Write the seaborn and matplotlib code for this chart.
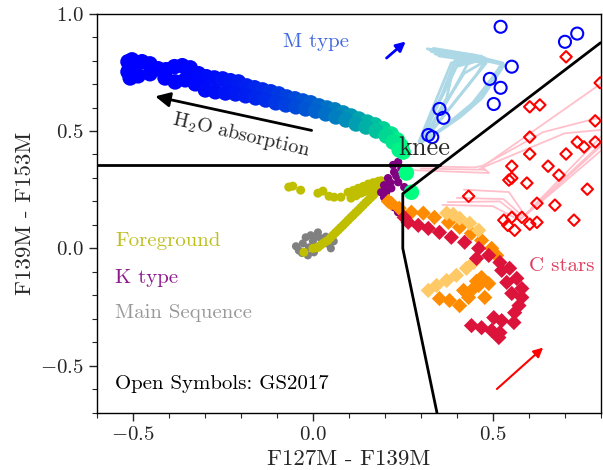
import numpy as np
import matplotlib
matplotlib.use("Agg")
import matplotlib.pyplot as plt
import seaborn as sns
from matplotlib.colors import PowerNorm

# M type model track (upper + lower edge of the band)
mtype_x = [-0.514, -0.514, -0.503, -0.497, -0.475, -0.453, -0.430, -0.408, -0.385, -0.363,
           -0.341, -0.318, -0.296, -0.274, -0.251, -0.229, -0.207, -0.184, -0.162, -0.140,
           -0.117, -0.095, -0.073, -0.050, -0.028, -0.006, 0.017, 0.039, 0.061, 0.084,
           0.106, 0.128, 0.151, 0.173, 0.196, 0.218, 0.235, 0.246, 0.251,
           -0.508, -0.486, -0.453, -0.411, -0.383, -0.355, -0.327, -0.299, -0.271, -0.243,
           -0.215, -0.187, -0.159, -0.131, -0.103, -0.075, -0.047, -0.020, 0.008, 0.036,
           0.064, 0.092, 0.120, 0.148, 0.176, 0.204, 0.223, 0.240,
           0.260, 0.274]
mtype_y = [0.795, 0.752, 0.803, 0.778, 0.795, 0.786, 0.765, 0.761, 0.774, 0.778,
           0.769, 0.744, 0.731, 0.726, 0.722, 0.714, 0.709, 0.692, 0.684, 0.675,
           0.667, 0.658, 0.645, 0.637, 0.628, 0.620, 0.607, 0.598, 0.590, 0.577,
           0.564, 0.551, 0.538, 0.526, 0.509, 0.487, 0.462, 0.436, 0.410,
           0.726, 0.735, 0.744, 0.726, 0.709, 0.718, 0.701, 0.675, 0.667, 0.662,
           0.658, 0.650, 0.641, 0.632, 0.620, 0.611, 0.603, 0.594, 0.585, 0.573,
           0.560, 0.547, 0.530, 0.517, 0.500, 0.479, 0.453, 0.419,
           0.321, 0.239]

# K type
ktype_x = [0.237, 0.223, 0.226, 0.246, 0.232, 0.209, 0.237, 0.198, 0.218, 0.254,
           0.190, 0.198, 0.209, 0.226, 0.237, 0.251, 0.260, 0.215, 0.204]
ktype_y = [0.368, 0.355, 0.325, 0.342, 0.308, 0.299, 0.282, 0.269, 0.256, 0.261,
           0.239, 0.218, 0.197, 0.175, 0.154, 0.132, 0.115, 0.280, 0.240]

# Foreground
fg_x = [-0.067, -0.056, -0.034, 0.014, 0.028, 0.045, 0.059, 0.078,
        0.098, 0.112, 0.126, 0.140, 0.154, 0.168, 0.182, 0.190,
        0.106, 0.120, 0.134, 0.145, 0.156, 0.170, 0.182,
        0.180, 0.172, 0.168, 0.161, 0.154, 0.147, 0.140, 0.133, 0.126, 0.119, 0.112,
        0.105, 0.098, 0.091, 0.084, 0.077, 0.070, 0.063, 0.056, 0.049, 0.042,
        0.035, 0.028, 0.021, 0.014, 0.007, 0.000, -0.025]
fg_y = [0.261, 0.265, 0.248, 0.235, 0.244, 0.222, 0.218, 0.218,
        0.239, 0.247, 0.256, 0.264, 0.274, 0.280, 0.286, 0.288,
        0.214, 0.224, 0.235, 0.242, 0.248, 0.255, 0.261,
        0.262, 0.235, 0.226, 0.216, 0.205, 0.195, 0.184, 0.173, 0.162, 0.152, 0.141,
        0.131, 0.120, 0.109, 0.098, 0.088, 0.077, 0.067, 0.056, 0.045, 0.034,
        0.028, 0.021, 0.013, 0.004, 0.002, 0.000, -0.017]

# Main sequence
ms_x = [-0.039, -0.028, -0.020, -0.006, 0.000, 0.014, 0.022, 0.031, 0.045, 0.050,
        0.003, -0.011, -0.014, -0.047, 0.036, -0.030, 0.058, 0.010]
ms_y = [-0.009, 0.021, 0.047, 0.056, 0.030, 0.068, 0.043, 0.026, 0.017, 0.000,
        -0.017, 0.004, -0.030, 0.009, 0.050, -0.020, 0.030, 0.050]

# C star models
cdark_x = [0.210, 0.218, 0.240, 0.274, 0.307, 0.338, 0.377, 0.408, 0.441, 0.469, 0.497, 0.511,
           0.469, 0.489, 0.461, 0.441, 0.419, 0.352, 0.380, 0.408, 0.433, 0.478, 0.455]
cdark_y = [0.200, 0.192, 0.171, 0.154, 0.150, 0.132, 0.111, 0.090, 0.064, 0.034, 0.000, -0.030,
           -0.124, -0.150, -0.158, -0.179, -0.179, -0.214, -0.222, -0.244, -0.209, -0.209, -0.140]
clight_x = [0.372, 0.408, 0.436, 0.461, 0.321, 0.344, 0.372, 0.399, 0.427, 0.447, 0.390]
clight_y = [0.150, 0.128, 0.107, 0.077, -0.179, -0.158, -0.137, -0.115, -0.085, -0.060, 0.145]
crim_x = [0.254, 0.265, 0.293, 0.321, 0.352, 0.385, 0.422, 0.461, 0.489, 0.520, 0.547, 0.567,
          0.581, 0.581, 0.573, 0.561, 0.559, 0.525, 0.503, 0.469, 0.441, 0.497, 0.520, 0.455,
          0.553, 0.525, 0.539, 0.517]
crim_y = [0.132, 0.111, 0.098, 0.085, 0.068, 0.047, 0.026, 0.000, -0.030, -0.060, -0.085, -0.128,
          -0.171, -0.209, -0.244, -0.274, -0.316, -0.308, -0.295, -0.338, -0.329, -0.350, -0.359, -0.043,
          -0.192, -0.094, -0.145, -0.380]

# GS2017 (open symbols)
gs_m_x = [0.522, 0.701, 0.735, 0.553, 0.492, 0.522, 0.503, 0.352, 0.363, 0.321, 0.332]
gs_m_y = [0.944, 0.880, 0.915, 0.774, 0.722, 0.684, 0.615, 0.594, 0.556, 0.483, 0.474]
gs_c_x = [0.704, 0.603, 0.631, 0.799, 0.785, 0.603, 0.603, 0.735, 0.754, 0.785, 0.704, 0.553,
          0.654, 0.684, 0.545, 0.553, 0.595, 0.763, 0.433, 0.623, 0.673, 0.581, 0.531, 0.553,
          0.542, 0.561, 0.603, 0.623, 0.726]
gs_c_y = [0.816, 0.603, 0.611, 0.705, 0.543, 0.474, 0.402, 0.453, 0.432, 0.453, 0.402, 0.350,
          0.350, 0.312, 0.291, 0.299, 0.278, 0.252, 0.222, 0.192, 0.184, 0.132, 0.120, 0.132,
          0.098, 0.077, 0.103, 0.111, 0.120]

# GS2017 model tracks
m_tracks = [
    [(0.295, 0.455), (0.385, 0.790), (0.470, 0.818), (0.318, 0.850)],
    [(0.300, 0.460), (0.400, 0.775), (0.472, 0.805), (0.330, 0.838)],
    [(0.305, 0.458), (0.420, 0.745), (0.476, 0.795), (0.340, 0.828)],
    [(0.310, 0.462), (0.445, 0.720), (0.482, 0.790), (0.350, 0.820)],
    [(0.302, 0.452), (0.372, 0.640), (0.392, 0.780), (0.460, 0.812), (0.325, 0.845)],
    [(0.298, 0.450), (0.360, 0.660), (0.395, 0.800), (0.455, 0.822), (0.335, 0.852)],
    [(0.307, 0.455), (0.400, 0.700), (0.430, 0.785), (0.478, 0.812), (0.345, 0.835)],
    [(0.312, 0.465), (0.455, 0.740), (0.480, 0.800), (0.360, 0.825)],
    [(0.318, 0.465), (0.430, 0.590), (0.500, 0.720), (0.532, 0.782), (0.478, 0.800)],
    [(0.322, 0.468), (0.440, 0.600), (0.510, 0.735), (0.528, 0.790), (0.470, 0.812)],
    [(0.315, 0.460), (0.420, 0.575), (0.490, 0.700), (0.520, 0.775)],
    [(0.320, 0.462), (0.445, 0.620), (0.515, 0.760), (0.535, 0.780)],
    [(0.325, 0.470), (0.410, 0.560), (0.470, 0.640), (0.525, 0.765)],
]
c_tracks = [
    [(0.280, 0.333), (0.490, 0.321), (0.470, 0.346), (0.804, 0.705)],
    [(0.285, 0.350), (0.450, 0.345), (0.472, 0.352), (0.640, 0.495), (0.804, 0.560)],
    [(0.300, 0.340), (0.480, 0.335), (0.465, 0.340), (0.700, 0.490), (0.804, 0.505)],
    [(0.375, 0.197), (0.520, 0.200), (0.580, 0.128), (0.804, 0.450)],
    [(0.360, 0.185), (0.500, 0.180), (0.575, 0.120), (0.804, 0.420)],
    [(0.400, 0.215), (0.530, 0.210), (0.585, 0.135), (0.804, 0.480)],
    [(0.420, 0.250), (0.545, 0.240), (0.590, 0.140), (0.804, 0.440)],
]

# dividing lines
line_h = [(-0.6, 0.355), (0.354, 0.355)]
line_bound = [(0.8, 0.876), (0.25, 0.233), (0.25, 0.0), (0.345, -0.7)]

sns.set_style("ticks")
plt.rcParams["font.family"] = ["serif"]
plt.rcParams["font.serif"] = ["cmr10", "DejaVu Serif"]
plt.rcParams["mathtext.fontset"] = "cm"
plt.rcParams["axes.formatter.use_mathtext"] = True
plt.rcParams["axes.unicode_minus"] = True

fig = plt.figure(figsize=(6.03, 4.70), dpi=100)
ax = fig.add_axes([0.161, 0.122, 0.835, 0.849])

for tr in m_tracks:
    xs, ys = zip(*tr)
    ax.plot(xs, ys, color="lightblue", lw=2.0, zorder=1)
for tr in c_tracks:
    xs, ys = zip(*tr)
    ax.plot(xs, ys, color="pink", lw=1.3, zorder=1)

sns.scatterplot(x=ms_x, y=ms_y, color="gray", s=34, edgecolor="none", ax=ax, zorder=2)
sns.scatterplot(x=fg_x, y=fg_y, color="y", s=42, edgecolor="none", ax=ax, zorder=3)
sns.scatterplot(x=ktype_x, y=ktype_y, color="purple", s=36, edgecolor="none", ax=ax, zorder=3)
sns.scatterplot(x=cdark_x, y=cdark_y, color="darkorange", marker="D", s=60, edgecolor="none", ax=ax, zorder=3)
sns.scatterplot(x=clight_x, y=clight_y, color="#ffc966", marker="D", s=60, edgecolor="none", ax=ax, zorder=3)
sns.scatterplot(x=crim_x, y=crim_y, color="crimson", marker="D", s=60, edgecolor="none", ax=ax, zorder=3)
sns.scatterplot(x=mtype_x, y=mtype_y, hue=mtype_x, palette="winter",
                hue_norm=PowerNorm(gamma=2.5, vmin=-0.52, vmax=0.255),
                s=125, edgecolor="none", legend=False, ax=ax, zorder=4)

ax.scatter(gs_m_x, gs_m_y, s=75, facecolors="none", edgecolors="blue", linewidths=1.5, zorder=5)
ax.scatter(gs_c_x, gs_c_y, marker="D", s=34, facecolors="none", edgecolors="red", linewidths=1.5, zorder=5)

xs, ys = zip(*line_h)
ax.plot(xs, ys, color="k", lw=2, zorder=6)
xs, ys = zip(*line_bound)
ax.plot(xs, ys, color="k", lw=2, zorder=6)

ax.annotate("", xy=(-0.446, 0.65), xytext=(0.004, 0.50),
            arrowprops=dict(arrowstyle="-|>", color="k", lw=2, mutation_scale=22), zorder=7)
ax.annotate("", xy=(0.264, 0.889), xytext=(0.199, 0.803),
            arrowprops=dict(arrowstyle="-|>", color="blue", lw=2, mutation_scale=14), zorder=7)
ax.annotate("", xy=(0.646, -0.415), xytext=(0.506, -0.607),
            arrowprops=dict(arrowstyle="-|>", color="red", lw=1.5, mutation_scale=14), zorder=7)

ax.text(-0.20, 0.483, r"H$_2$O absorption", rotation=-13, fontsize=14.5, ha="center", va="center")
ax.text(0.31, 0.425, "knee", fontsize=19, ha="center", va="center", zorder=8)
ax.text(0.008, 0.88, "M type", fontsize=15, color="royalblue", ha="center", va="center")
ax.text(0.693, -0.077, "C stars", fontsize=15, color="#e0405f", ha="center", va="center")
ax.text(-0.55, 0.03, "Foreground", fontsize=15, color="#bfbf20", ha="left", va="center")
ax.text(-0.55, -0.127, "K type", fontsize=15, color="#8e1a8e", ha="left", va="center")
ax.text(-0.55, -0.275, "Main Sequence", fontsize=15, color="#999999", ha="left", va="center")
ax.text(-0.55, -0.577, "Open Symbols: GS2017", fontsize=15, color="k", ha="left", va="center")

ax.set_xlim(-0.6, 0.8)
ax.set_ylim(-0.7, 1.0)
ax.set_xticks([-0.5, 0.0, 0.5])
ax.set_yticks([-0.5, 0.0, 0.5, 1.0])
ax.xaxis.set_minor_locator(matplotlib.ticker.MultipleLocator(0.1))
ax.yaxis.set_minor_locator(matplotlib.ticker.MultipleLocator(0.1))
ax.tick_params(which="major", length=6, width=1, labelsize=15, direction="out")
ax.tick_params(which="minor", length=3.5, width=0.8, direction="out")
ax.set_xlabel("F127M - F139M", fontsize=16.5)
ax.set_ylabel("F139M - F153M", fontsize=16.5)
for sp in ax.spines.values():
    sp.set_linewidth(1.0)
    sp.set_color("k")

fig.savefig("out.png", dpi=100)
